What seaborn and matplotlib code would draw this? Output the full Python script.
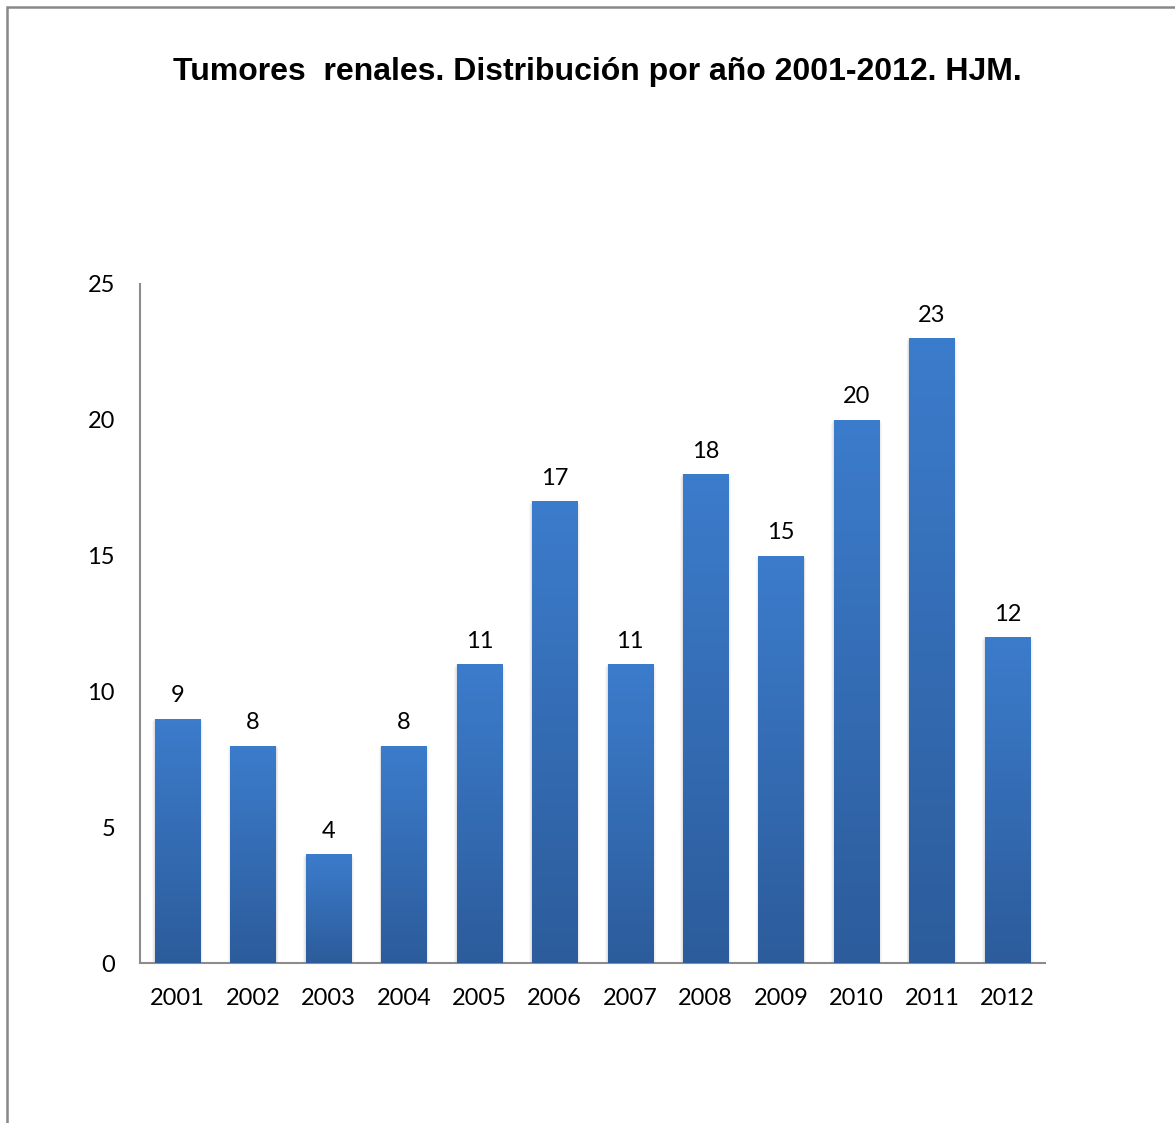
import numpy as np
import pandas as pd
import matplotlib
matplotlib.use("Agg")
import matplotlib.pyplot as plt
import seaborn as sns
from matplotlib.colors import LinearSegmentedColormap
from matplotlib.patches import Rectangle

years = ["2001", "2002", "2003", "2004", "2005", "2006",
         "2007", "2008", "2009", "2010", "2011", "2012"]
counts = [9, 8, 4, 8, 11, 17, 11, 18, 15, 20, 23, 12]
title = "Tumores  renales. Distribución por año 2001-2012. HJM."

df = pd.DataFrame({"year": years, "n": counts})

sns.set_theme(style="white")
plt.rcParams["font.family"] = ["Lato", "DejaVu Sans"]
plt.rcParams["text.color"] = "black"

fig = plt.figure(figsize=(11.75, 11.23), dpi=100)
ax = fig.add_axes([140/1175, 1 - 963/1123, 905/1175, (963-284)/1123])

sns.barplot(data=df, x="year", y="n", ax=ax, color="#3470b8", width=0.6,
            saturation=1, edgecolor="none")

top_c = "#3c7ccc"
bot_c = "#2c5c9b"
cmap = LinearSegmentedColormap.from_list("g", [bot_c, top_c])
grad = np.linspace(0, 1, 256).reshape(-1, 1)

ax.set_ylim(0, 25)
ax.set_xlim(-0.5, len(years) - 0.5)

for p in list(ax.patches):
    x0, w, h = p.get_x(), p.get_width(), p.get_height()
    # soft side shadow
    for k, a in enumerate([0.05, 0.04, 0.03]):
        d = 0.012 * (k + 1)
        sh = Rectangle((x0 - d, 0), w + 2 * d, h - 0.05 * k,
                       facecolor="black", alpha=a, edgecolor="none", zorder=1)
        ax.add_patch(sh)
    im = ax.imshow(grad, cmap=cmap, origin="lower", aspect="auto",
                   extent=(x0, x0 + w, 0, h), zorder=3, interpolation="bicubic")
    im.set_clip_path(p)
    p.set_zorder(2)

ax.set_xlim(-0.5, len(years) - 0.5)
ax.set_ylim(0, 25)

ax.bar_label(ax.containers[0], labels=[str(c) for c in counts],
             padding=9, fontsize=17, color="black")

ax.set_yticks([0, 5, 10, 15, 20, 25])
ax.set_xlabel("")
ax.set_ylabel("")
ax.tick_params(axis="both", length=0, labelsize=17, colors="black")
ax.tick_params(axis="y", pad=18)
ax.tick_params(axis="x", pad=18)

for s in ["top", "right"]:
    ax.spines[s].set_visible(False)
for s in ["left", "bottom"]:
    ax.spines[s].set_color("#8c8c8c")
    ax.spines[s].set_linewidth(1.5)

fig.text(597/1175, 1 - 72/1123, title, ha="center", va="center", color="black",
         fontsize=23, fontweight="bold", family=["Liberation Sans", "DejaVu Sans"])

border = Rectangle((7/1175, -0.05), 1.2, 1 - 7/1123 + 0.05, transform=fig.transFigure,
                   facecolor="none", edgecolor="#888888", linewidth=1.8)
fig.patches.append(border)

fig.savefig("out.png", dpi=100)
